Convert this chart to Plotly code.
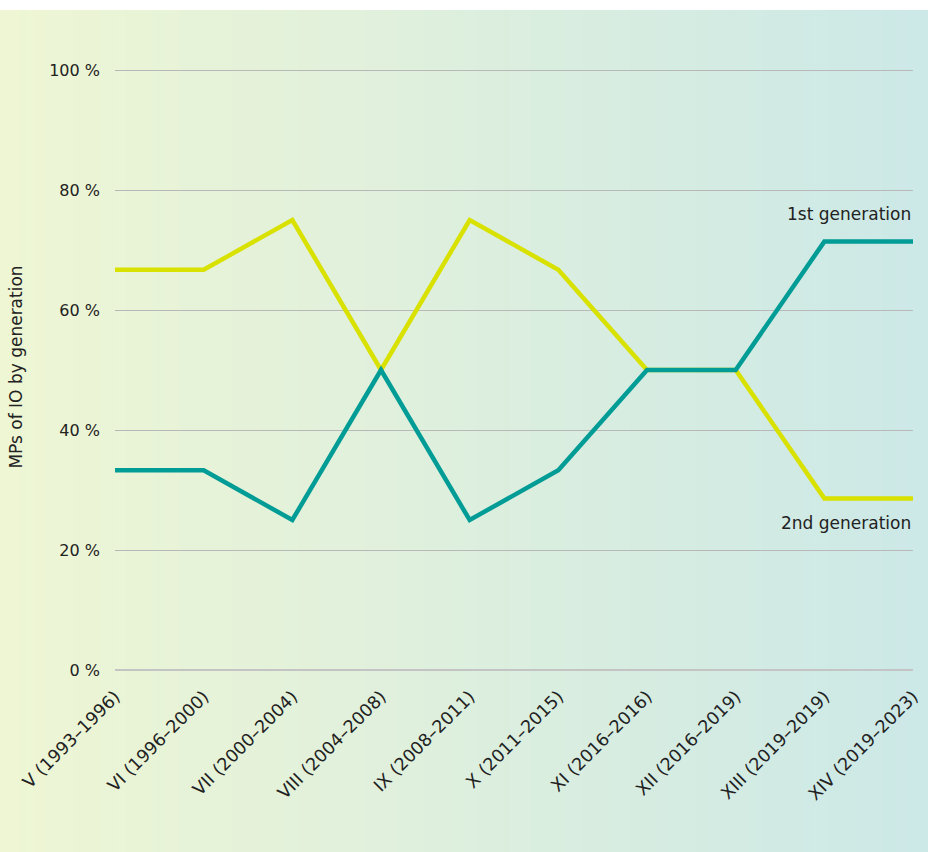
import plotly.graph_objects as go

categories = ["V (1993–1996)", "VI (1996–2000)", "VII (2000–2004)", "VIII (2004–2008)",
              "IX (2008–2011)", "X (2011–2015)", "XI (2016–2016)", "XII (2016–2019)",
              "XIII (2019–2019)", "XIV (2019–2023)"]
first_gen = [33.3, 33.3, 25.0, 50.0, 25.0, 33.3, 50.0, 50.0, 71.4, 71.4]
second_gen = [66.7, 66.7, 75.0, 50.0, 75.0, 66.7, 50.0, 50.0, 28.6, 28.6]
y_ticks = [0, 20, 40, 60, 80, 100]
y_ticktext = ["0 %", "20 %", "40 %", "60 %", "80 %", "100 %"]

W, H = 928, 852
YMAX = 101.0
L, R = 115, 15
B = 182
T = round(70 - 6 * (YMAX - 100))
pw, ph = W - L - R, H - T - B

FONT = "DejaVu Sans, sans-serif"
TXT = "#222222"

fig = go.Figure()
fig.add_trace(go.Scatter(x=list(range(len(categories))), y=second_gen, mode="lines",
                         line=dict(color="#D8E100", width=4.5), name="2nd generation"))
fig.add_trace(go.Scatter(x=list(range(len(categories))), y=first_gen, mode="lines",
                         line=dict(color="#009C95", width=4.5), name="1st generation"))

# gradient background
c0 = (238, 246, 212)
c1 = (204, 232, 231)
n = 140
shapes = []
x_left = (0 - L) / pw
x_right = (W - L) / pw
y_top = (H - B - 10) / ph
y_bot = (H - B - H) / ph
for i in range(n):
    t = i / (n - 1)
    col = tuple(round(c0[k] + (c1[k] - c0[k]) * t) for k in range(3))
    xa = x_left + (x_right - x_left) * i / n
    xb = x_left + (x_right - x_left) * (i + 1) / n + 0.002
    shapes.append(dict(type="rect", xref="paper", yref="paper", x0=xa, x1=xb,
                       y0=y_bot, y1=y_top, line=dict(width=0),
                       fillcolor="rgb(%d,%d,%d)" % col, layer="below"))

fig.update_layout(
    width=W, height=H,
    margin=dict(l=L, r=R, t=T, b=B, autoexpand=False),
    paper_bgcolor="white", plot_bgcolor="rgba(0,0,0,0)",
    showlegend=False,
    shapes=shapes,
    font=dict(family=FONT, color=TXT, size=16),
    xaxis=dict(range=[0, 9], tickmode="array", tickvals=list(range(len(categories))),
               ticktext=categories, tickangle=-45, showgrid=False, zeroline=False,
               automargin=False, ticklabelstandoff=12,
               showline=False, ticks="", tickfont=dict(size=17.5, color=TXT, family=FONT)),
    yaxis=dict(range=[0, YMAX], tickmode="array", tickvals=y_ticks, ticktext=y_ticktext,
               showgrid=True, gridcolor="#b8b8b8", gridwidth=1, zeroline=True,
               automargin=False,
               zerolinecolor="#c4c4c4", zerolinewidth=2, showline=False, ticks="",
               ticklabelstandoff=14,
               tickfont=dict(size=16, color=TXT, family=FONT),
               title=dict(text="MPs of IO by generation", standoff=22,
                          font=dict(size=17, color=TXT, family=FONT))),
    annotations=[
        dict(x=9, y=76, xref="x", yref="y", text="1st generation", showarrow=False,
             xanchor="right", yanchor="middle", font=dict(size=17, color=TXT, family=FONT)),
        dict(x=9, y=24.5, xref="x", yref="y", text="2nd generation", showarrow=False,
             xanchor="right", yanchor="middle", font=dict(size=17, color=TXT, family=FONT)),
    ],
)

fig.write_html("out.html", config={"displayModeBar": False},
               post_script="document.body.style.margin='0';")
